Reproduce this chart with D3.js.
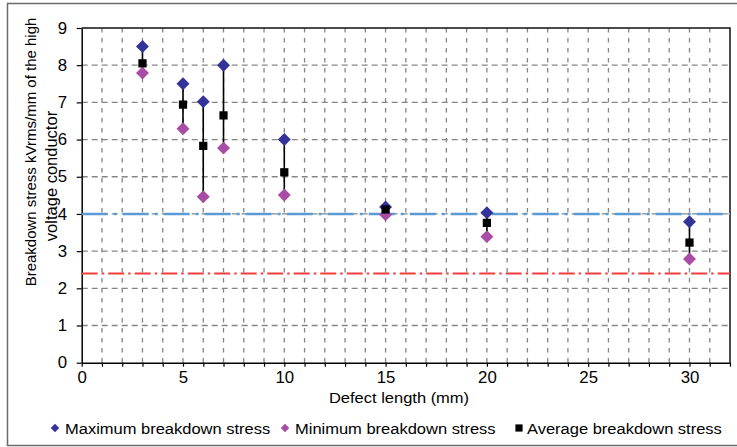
<!DOCTYPE html>
<html lang="en">
<head>
<meta charset="utf-8">
<title>Breakdown stress vs defect length</title>
<script src="https://cdn.jsdelivr.net/npm/d3@7"></script>
<style>
  body { margin: 0; background: #fff; }
  text { font-family: "Liberation Sans", Arial, sans-serif; fill: #000; }
</style>
</head>
<body>
<script>
// data
var defectLength = [3, 5, 6, 7, 10, 15, 20, 30];
var maxStress = [8.5, 7.5, 7.02, 8.0, 6.0, 4.19, 4.03, 3.79];
var minStress = [7.79, 6.29, 4.46, 5.77, 4.51, 3.98, 3.39, 2.79];
var avgStress = [8.05, 6.94, 5.83, 6.65, 5.12, 4.12, 3.76, 3.23];
var refLevels = [4.0, 2.4];
var xTickLabels = [0, 5, 10, 15, 20, 25, 30];
var yTickLabels = [0, 1, 2, 3, 4, 5, 6, 7, 8, 9];
var seriesNames = ['Maximum breakdown stress', 'Minimum breakdown stress', 'Average breakdown stress'];

var w = 737, h = 447;
// note: "top" is taken by window.top, so prefix the plot edges
var plotL = 81.7, plotR = 730, plotT = 28, plotB = 362.7;
var fs = 15, stretch = 1.1;   // text looks a bit wide in the original

var svg = d3.select('body').append('svg')
    .attr('width', w)
    .attr('height', h);

// outer chart frame
svg.append('rect')
    .attr('x', 7.5).attr('y', 3.5)
    .attr('width', 740).attr('height', 442)
    .attr('fill', 'none')
    .attr('stroke', '#6a6a6a')
    .attr('stroke-width', 1.5);

var x = d3.scaleLinear().domain([0, 32]).range([plotL, plotR]);
var y = d3.scaleLinear().domain([0, 9]).range([plotB, plotT]);

// gridlines (every unit)
svg.append('g').selectAll('line')
    .data(d3.range(1, 32))
    .enter().append('line')
    .attr('x1', function(d) { return x(d); })
    .attr('x2', function(d) { return x(d); })
    .attr('y1', plotT).attr('y2', plotB)
    .attr('stroke', '#858585')
    .attr('stroke-width', 1.3)
    .attr('stroke-dasharray', '4.5,5.5');

svg.append('g').selectAll('line')
    .data(d3.range(1, 9))
    .enter().append('line')
    .attr('x1', plotL).attr('x2', plotR)
    .attr('y1', function(d) { return y(d); })
    .attr('y2', function(d) { return y(d); })
    .attr('stroke', '#858585')
    .attr('stroke-width', 1.3)
    .attr('stroke-dasharray', '6,4');

// top / right border of plot area
svg.append('path')
    .attr('d', 'M' + plotL + ',' + plotT + 'H' + plotR + 'V' + plotB)
    .attr('fill', 'none')
    .attr('stroke', '#111')
    .attr('stroke-width', 1.5);

// axes
var xAxis = d3.axisBottom(x)
    .tickValues(d3.range(0, 33))
    .tickSize(4)
    .tickSizeOuter(0)
    .tickPadding(5)
    .tickFormat(function(d) { return xTickLabels.indexOf(d) >= 0 ? d : ''; });

var gx = svg.append('g')
    .attr('transform', 'translate(0,' + plotB + ')')
    .call(xAxis);

var yAxis = d3.axisLeft(y)
    .tickValues(yTickLabels)
    .tickSize(5)
    .tickSizeOuter(0)
    .tickPadding(9);

var gy = svg.append('g')
    .attr('transform', 'translate(' + plotL + ',0)')
    .call(yAxis);

[gx, gy].forEach(function(g) {
    g.select('.domain').attr('stroke', '#000').attr('stroke-width', 1.5);
    g.selectAll('.tick line').attr('stroke', '#000').attr('stroke-width', 1.2);
    g.selectAll('.tick text')
        .attr('font-size', 16)
        .attr('font-family', '"Liberation Sans", Arial, sans-serif')
        .attr('fill', '#000')
        .attr('transform', 'scale(1.05,1)');
});

// reference levels
var refStyle = [
    { color: '#5b9bd5', width: 2.6, dash: '26,6,3,6' },
    { color: '#f23c3c', width: 2, dash: '16,4,2.5,4' }
];
svg.append('g').selectAll('line')
    .data(refLevels)
    .enter().append('line')
    .attr('x1', plotL).attr('x2', plotR)
    .attr('y1', function(d) { return y(d); })
    .attr('y2', function(d) { return y(d); })
    .attr('stroke', function(d, i) { return refStyle[i].color; })
    .attr('stroke-width', function(d, i) { return refStyle[i].width; })
    .attr('stroke-dasharray', function(d, i) { return refStyle[i].dash; });

// high-low lines
svg.append('g').selectAll('line')
    .data(defectLength)
    .enter().append('line')
    .attr('x1', function(d) { return x(d); })
    .attr('x2', function(d) { return x(d); })
    .attr('y1', function(d, i) { return y(minStress[i]); })
    .attr('y2', function(d, i) { return y(maxStress[i]); })
    .attr('stroke', '#000')
    .attr('stroke-width', 1.6);

var diamond = d3.symbol().type(d3.symbolSquare).size(84);
var square = d3.symbol().type(d3.symbolSquare).size(68);
var colors = ['#333399', '#a84ca4', '#000'];

function drawPoints(values, sym, color, rotate) {
    svg.append('g').selectAll('path')
        .data(values)
        .enter().append('path')
        .attr('d', sym)
        .attr('fill', color)
        .attr('transform', function(d, i) {
            return 'translate(' + x(defectLength[i]) + ',' + y(d) + ')' + (rotate ? ' rotate(45)' : '');
        });
}
drawPoints(maxStress, diamond, colors[0], true);
drawPoints(minStress, diamond, colors[1], true);
drawPoints(avgStress, square, colors[2], false);

// axis titles
svg.append('text')
    .attr('transform', 'translate(399,403) scale(' + stretch + ',1)')
    .attr('text-anchor', 'middle')
    .attr('font-size', fs)
    .text('Defect length (mm)');

var yTitle = svg.append('text')
    .attr('transform', 'rotate(-90)')
    .attr('text-anchor', 'middle')
    .attr('font-size', fs);
yTitle.append('tspan')
    .attr('x', -152).attr('y', 36)
    .text('Breakdown stress kVrms/mm of the high');
yTitle.append('tspan')
    .attr('x', -176).attr('y', 56.5)
    .attr('font-size', 16.5)
    .text('voltage conductor');

// legend
var legendMarkX = [55, 285, 519];
var legendY = 428;
var legendSym = [
    d3.symbol().type(d3.symbolSquare).size(36),
    d3.symbol().type(d3.symbolSquare).size(36),
    d3.symbol().type(d3.symbolSquare).size(52)
];
seriesNames.forEach(function(name, i) {
    svg.append('path')
        .attr('d', legendSym[i])
        .attr('fill', colors[i])
        .attr('transform', 'translate(' + legendMarkX[i] + ',' + legendY + ')' + (i < 2 ? ' rotate(45)' : ''));
    svg.append('text')
        .attr('transform', 'translate(' + (legendMarkX[i] + (i < 2 ? 10 : 8)) + ',' + (legendY + 5.5) + ') scale(' + stretch + ',1)')
        .attr('font-size', fs)
        .text(name);
});
</script>
</body>
</html>
